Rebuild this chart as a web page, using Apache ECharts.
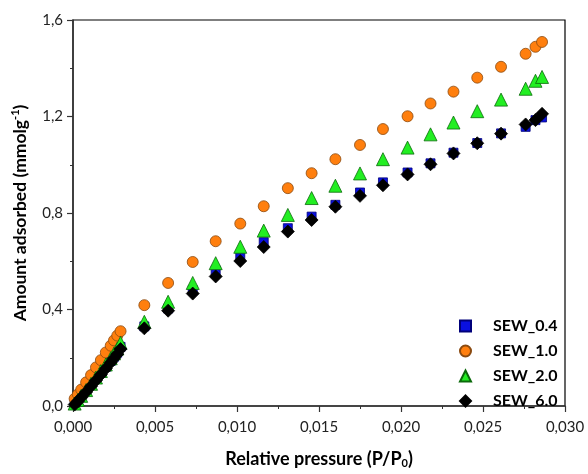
<!DOCTYPE html>
<html>
<head>
<meta charset="utf-8">
<script src="https://cdn.jsdelivr.net/npm/echarts@6/dist/echarts.min.js"></script>
<style>
    html, body { margin: 0; padding: 0; background: #fff; }
    #chart { width: 588px; height: 474px; }
</style>
</head>
<body>
<div id="chart"></div>
<script>
    // relative pressure values (low range is dense, then regular steps)
    var xLow = [0.0001, 0.0003, 0.0005, 0.0008, 0.0011, 0.0014, 0.0017, 0.0020, 0.0023, 0.0025, 0.0027, 0.0029];
    var xHigh = [0.00435, 0.0058, 0.0073, 0.0087, 0.0102, 0.01163, 0.0131, 0.01455, 0.0160, 0.0175, 0.0189,
        0.0204, 0.0218, 0.0232, 0.02465, 0.0261, 0.0276, 0.0282, 0.0286];

    var sew04Low = [0.008, 0.022, 0.038, 0.062, 0.087, 0.112, 0.137, 0.162, 0.187, 0.204, 0.221, 0.245];
    var sew04High = [0.33, 0.404, 0.48, 0.562, 0.622, 0.679, 0.737, 0.785, 0.834, 0.885, 0.927,
        0.968, 1.006, 1.05, 1.09, 1.13, 1.157, 1.185, 1.196];

    var sew10Low = [0.03, 0.048, 0.068, 0.098, 0.128, 0.16, 0.19, 0.222, 0.25, 0.272, 0.292, 0.31];
    var sew10High = [0.418, 0.51, 0.597, 0.683, 0.756, 0.828, 0.903, 0.965, 1.023, 1.082, 1.148,
        1.201, 1.254, 1.303, 1.361, 1.406, 1.46, 1.489, 1.509];

    var sew20Low = [0.01, 0.025, 0.042, 0.066, 0.092, 0.118, 0.145, 0.172, 0.198, 0.218, 0.238, 0.262];
    var sew20High = [0.349, 0.432, 0.51, 0.592, 0.66, 0.727, 0.792, 0.862, 0.913, 0.964, 1.023,
        1.071, 1.126, 1.175, 1.222, 1.27, 1.315, 1.348, 1.364];

    var sew60Low = [0.006, 0.02, 0.035, 0.058, 0.082, 0.106, 0.13, 0.155, 0.18, 0.198, 0.215, 0.236];
    var sew60High = [0.322, 0.395, 0.466, 0.537, 0.601, 0.659, 0.723, 0.771, 0.826, 0.871, 0.915,
        0.96, 1.002, 1.047, 1.089, 1.129, 1.167, 1.185, 1.211];

    var seriesNames = ['SEW_0.4', 'SEW_1.0', 'SEW_2.0', 'SEW_6.0'];

    function pairs(xs, ys) {
        var out = [];
        for (var i = 0; i < xs.length; i++) {
            out.push([xs[i], ys[i]]);
        }
        return out;
    }

    function comma(d) {
        return function (v) { return v.toFixed(d).replace('.', ','); };
    }

    var font = 'Lato, "Open Sans", sans-serif';
    var chart = echarts.init(document.getElementById('chart'), null, {renderer: 'canvas'});

    var styles = [
        {symbol: 'rect', size: 9, color: '#0a10e0', border: '#00007a'},
        {symbol: 'circle', size: 11, color: '#ff7f0e', border: '#8a4a10'},
        {symbol: 'triangle', size: 13, color: '#22ee22', border: '#0a6a0a'},
        {symbol: 'diamond', size: 13, color: '#000000', border: '#000000'}
    ];
    var dataSets = [
        pairs(xLow, sew04Low).concat(pairs(xHigh, sew04High)),
        pairs(xLow, sew10Low).concat(pairs(xHigh, sew10High)),
        pairs(xLow, sew20Low).concat(pairs(xHigh, sew20High)),
        pairs(xLow, sew60Low).concat(pairs(xHigh, sew60High))
    ];

    var series = [];
    for (var i = 0; i < seriesNames.length; i++) {
        series.push({
            name: seriesNames[i],
            type: 'scatter',
            symbol: styles[i].symbol,
            symbolSize: styles[i].size,
            data: dataSets[i],
            z: 2 + i,
            itemStyle: {color: styles[i].color, borderColor: styles[i].border, borderWidth: 0.8, opacity: 1}
        });
    }

    chart.setOption({
        animation: false,
        backgroundColor: '#fff',
        grid: {left: 73, right: 23, top: 20, bottom: 66, show: true, borderColor: '#000', borderWidth: 1.2},
        legend: {
            orient: 'vertical',
            left: 454,
            top: 313,
            itemGap: 9,
            itemWidth: 11,
            itemHeight: 11,
            data: seriesNames,
            textStyle: {fontFamily: font, fontWeight: 'bold', fontSize: 16, color: '#000', padding: [0, 0, 0, 17]}
        },
        xAxis: {
            type: 'value',
            min: 0, max: 0.03, interval: 0.005,
            name: 'Relative pressure (P/P{sub|0})',
            nameLocation: 'middle',
            nameGap: 43,
            nameTextStyle: {
                fontFamily: font, fontWeight: 'bold', fontSize: 18, color: '#000',
                rich: {sub: {fontFamily: font, fontWeight: 'bold', fontSize: 11, verticalAlign: 'bottom', padding: [9, 0, 0, 0]}}
            },
            axisLine: {lineStyle: {color: '#333', width: 1.5}},
            axisTick: {length: 6, lineStyle: {color: '#333', width: 1.2}},
            minorTick: {show: true, splitNumber: 2, length: 3, lineStyle: {color: '#333'}},
            splitLine: {show: false},
            axisLabel: {fontFamily: font, fontSize: 15, color: '#222', margin: 14, formatter: comma(3)}
        },
        yAxis: {
            type: 'value',
            min: 0, max: 1.6, interval: 0.4,
            name: 'Amount adsorbed (mmolg{sup|-1})',
            nameLocation: 'middle',
            nameGap: 43,
            nameTextStyle: {
                fontFamily: font, fontWeight: 'bold', fontSize: 17.5, color: '#000',
                rich: {sup: {fontFamily: font, fontWeight: 'bold', fontSize: 11, verticalAlign: 'top', padding: [0, 0, 9, 0]}}
            },
            axisLine: {lineStyle: {color: '#333', width: 1.5}},
            axisTick: {length: 6, lineStyle: {color: '#333', width: 1.2}},
            minorTick: {show: true, splitNumber: 2, length: 3, lineStyle: {color: '#333'}},
            splitLine: {show: false},
            axisLabel: {fontFamily: font, fontSize: 15, color: '#222', margin: 10, formatter: comma(1)}
        },
        series: series
    });
</script>
</body>
</html>
